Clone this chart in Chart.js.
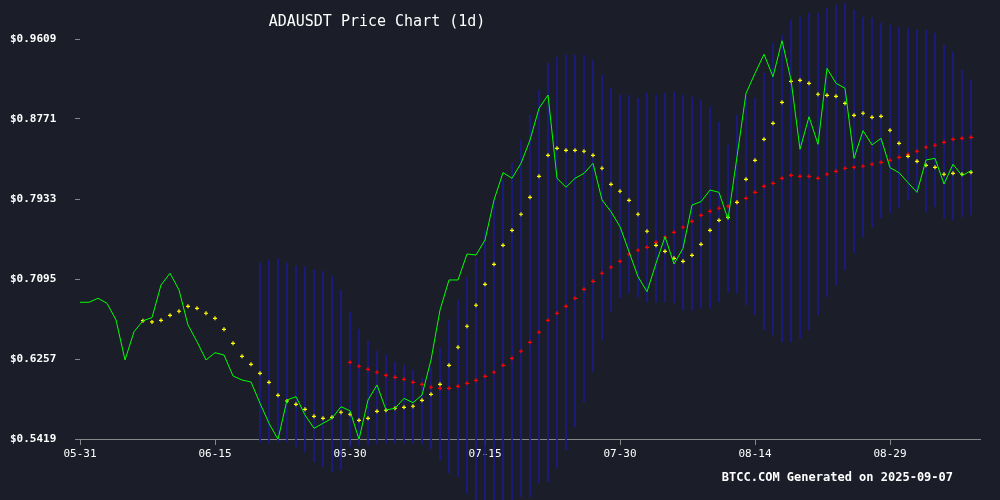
<!DOCTYPE html>
<html><head><meta charset="utf-8">
<script src="https://cdn.jsdelivr.net/npm/chart.js@4.4.1/dist/chart.umd.min.js"></script>
<style>html,body{margin:0;padding:0;background:#1b1e29;}#wrap{width:1000px;height:500px;}</style>
</head><body><div id="wrap"><canvas id="c"></canvas></div>
<script>
const title = 'ADAUSDT Price Chart (1d)';
const footer = 'BTCC.COM Generated on 2025-09-07';
const tickDays = [0,15,30,45,60,75,90];
const tickLabels = ['05-31','06-15','06-30','07-15','07-30','08-14','08-29'];
const yTicks = [0.5419,0.6257,0.7095,0.7933,0.8771,0.9609];
const price = [0.6851,0.6851,0.6893,0.6840,0.6666,0.6247,0.6543,0.6658,0.6690,0.7032,
0.7155,0.6980,0.6613,0.6438,0.6247,0.6323,0.6299,0.6079,0.6037,0.6016,
0.5793,0.5583,0.5415,0.5828,0.5862,0.5670,0.5531,0.5583,0.5636,0.5757,
0.5715,0.5415,0.5828,0.5985,0.5723,0.5741,0.5845,0.5799,0.5880,0.6247,
0.6770,0.7085,0.7085,0.7357,0.7346,0.7504,0.7923,0.8209,0.8150,0.8307,
0.8551,0.8883,0.9022,0.8150,0.8056,0.8150,0.8202,0.8307,0.7923,0.7800,
0.7643,0.7381,0.7119,0.6962,0.7259,0.7538,0.7252,0.7417,0.7870,0.7905,
0.8027,0.8003,0.7720,0.8376,0.9040,0.9250,0.9449,0.9214,0.9591,0.9180,
0.8454,0.8795,0.8506,0.9302,0.9145,0.9093,0.8359,0.8649,0.8499,0.8569,
0.8261,0.8209,0.8104,0.8003,0.8342,0.8359,0.8090,0.8297,0.8177,0.8230];
const maShortStart = 7;
const maShort = [0.6658,0.6645,0.6662,0.6715,0.6757,0.6809,0.6788,0.6736,0.6683,0.6568,
0.6421,0.6285,0.6201,0.6107,0.6013,0.5877,0.5817,0.5782,0.5730,0.5657,
0.5636,0.5646,0.5699,0.5678,0.5615,0.5636,0.5709,0.5720,0.5741,0.5751,
0.5762,0.5824,0.5887,0.5992,0.6191,0.6380,0.6600,0.6820,0.7039,0.7249,
0.7448,0.7605,0.7773,0.7951,0.8171,0.8391,0.8464,0.8443,0.8443,0.8433,
0.8391,0.8255,0.8087,0.8014,0.7919,0.7773,0.7595,0.7448,0.7385,0.7312,
0.7280,0.7343,0.7458,0.7605,0.7710,0.7741,0.7898,0.8139,0.8338,0.8558,
0.8726,0.8946,0.9166,0.9176,0.9145,0.9030,0.9019,0.9009,0.8935,0.8810,
0.8831,0.8789,0.8799,0.8653,0.8516,0.8380,0.8328,0.8286,0.8265,0.8192,
0.8202,0.8192,0.8213];
const maLongStart = 30;
const maLong = [0.6222,0.6181,0.6149,0.6118,0.6086,0.6065,0.6044,0.6013,0.5992,0.5961,
0.5950,0.5950,0.5971,0.6002,0.6034,0.6076,0.6118,0.6191,0.6264,0.6338,
0.6432,0.6537,0.6662,0.6736,0.6809,0.6893,0.6987,0.7071,0.7155,0.7218,
0.7280,0.7354,0.7396,0.7427,0.7479,0.7532,0.7584,0.7637,0.7699,0.7762,
0.7804,0.7836,0.7857,0.7898,0.7940,0.8003,0.8066,0.8097,0.8150,0.8181,
0.8171,0.8171,0.8150,0.8192,0.8223,0.8255,0.8265,0.8276,0.8297,0.8317,
0.8338,0.8370,0.8401,0.8433,0.8475,0.8496,0.8527,0.8558,0.8569,0.8579];
const bandStart = 20;
const bandUpper = [0.7263,0.7294,0.7305,0.7263,0.7231,0.7221,0.7189,0.7179,0.7126,0.6980,
0.6749,0.6571,0.6446,0.6341,0.6299,0.6226,0.6194,0.6142,0.6058,0.6173,
0.6372,0.6666,0.6875,0.7116,0.7315,0.7608,0.7923,0.8132,0.8310,0.8551,
0.8813,0.9075,0.9358,0.9420,0.9441,0.9441,0.9441,0.9389,0.9232,0.9096,
0.9022,0.9022,0.8991,0.9043,0.9022,0.9043,0.9054,0.9022,0.9001,0.8970,
0.8897,0.8740,0.8499,0.8813,0.9001,0.8991,0.9253,0.9567,0.9651,0.9808,
0.9839,0.9881,0.9881,0.9934,0.9965,0.9986,0.9913,0.9839,0.9829,0.9777,
0.9756,0.9735,0.9724,0.9703,0.9703,0.9672,0.9546,0.9473,0.9284,0.9180];
const bandLower = [0.5388,0.5377,0.5388,0.5388,0.5335,0.5283,0.5178,0.5126,0.5073,0.5094,
0.5335,0.5356,0.5356,0.5367,0.5377,0.5377,0.5377,0.5377,0.5367,0.5314,
0.5199,0.5063,0.5021,0.4853,0.4728,0.4623,0.4623,0.4675,0.4728,0.4811,
0.4811,0.4958,0.4969,0.5115,0.5304,0.5545,0.5807,0.6121,0.6456,0.6749,
0.6896,0.6948,0.6906,0.6854,0.6854,0.6854,0.6844,0.6770,0.6770,0.6791,
0.6791,0.6854,0.6959,0.6948,0.6823,0.6718,0.6561,0.6508,0.6435,0.6435,
0.6477,0.6561,0.6718,0.6906,0.7032,0.7189,0.7367,0.7535,0.7640,0.7734,
0.7786,0.7839,0.7923,0.7996,0.7797,0.7849,0.7734,0.7713,0.7744,0.7765];

const pts = (arr, start) => arr.map((v,i)=>({x:start+i,y:v}));
const bands = bandUpper.map((u,i)=>({x:bandStart+i,y:[bandLower[i],u]}));
const mono = 'DejaVu Sans Mono';

const textPlugin = {id:'txt', afterDraw(ch){
  const c=ch.ctx; c.save(); c.fillStyle='#ffffff'; c.textBaseline='middle';
  c.font='15px '+mono; c.textAlign='center'; c.fillText(title,377,22);
  c.font='bold 12px '+mono; c.textAlign='right'; c.fillText(footer,953,478);
  c.restore();
}};
const bgPlugin = {id:'bg', beforeDraw(ch){const c=ch.ctx;c.save();c.fillStyle='#1b1e29';c.fillRect(0,0,ch.width,ch.height);c.restore();}};

new Chart(document.getElementById('c'), {
  data:{datasets:[
    {type:'bar', data:bands, backgroundColor:'#1a1a8a', barThickness:1, clip:false, order:4},
    {type:'line', data:pts(maLong,maLongStart), showLine:false, borderColor:'#ff0000', backgroundColor:'#ff0000', pointStyle:'cross', pointRadius:2, borderWidth:1.2, order:3},
    {type:'line', data:pts(maShort,maShortStart), showLine:false, borderColor:'#ffff00', backgroundColor:'#ffff00', pointStyle:'cross', pointRadius:2, borderWidth:1.2, order:2},
    {type:'line', data:pts(price,0), borderColor:'#00ff00', borderWidth:1, pointRadius:0, tension:0, order:1}
  ]},
  options:{responsive:true, maintainAspectRatio:false, animation:false,
    layout:{padding:{left:10,right:20,top:39,bottom:0}},
    plugins:{legend:{display:false},tooltip:{enabled:false}},
    scales:{
      x:{type:'linear', min:0, max:100, offset:false,
        afterBuildTicks(s){s.ticks=tickDays.map(v=>({value:v}));},
        afterFit(s){s.height=61;},
        ticks:{color:'#ffffff', font:{family:mono,size:11}, maxRotation:0, autoSkip:false,
          callback(v){const i=tickDays.indexOf(v);return i>=0?tickLabels[i]:'';}},
        grid:{display:true, offset:false, drawOnChartArea:false, color:'#888888', tickLength:6, tickColor:'#888888'},
        border:{display:true,color:'#888888',width:1}},
      y:{type:'linear', min:yTicks[0], max:yTicks[yTicks.length-1],
        afterBuildTicks(s){s.ticks=yTicks.map(v=>({value:v}));},
        afterFit(s){s.width=70;},
        ticks:{color:'#ffffff', font:{family:mono,size:11,weight:'bold'}, crossAlign:'far', padding:6,
          callback(v){return '$'+Number(v).toFixed(4);}},
        grid:{display:true, drawOnChartArea:false, color:'#888888', tickLength:5, tickColor:'#888888'},
        border:{display:false}}
    }
  },
  plugins:[bgPlugin,textPlugin]
});
</script></body></html>
